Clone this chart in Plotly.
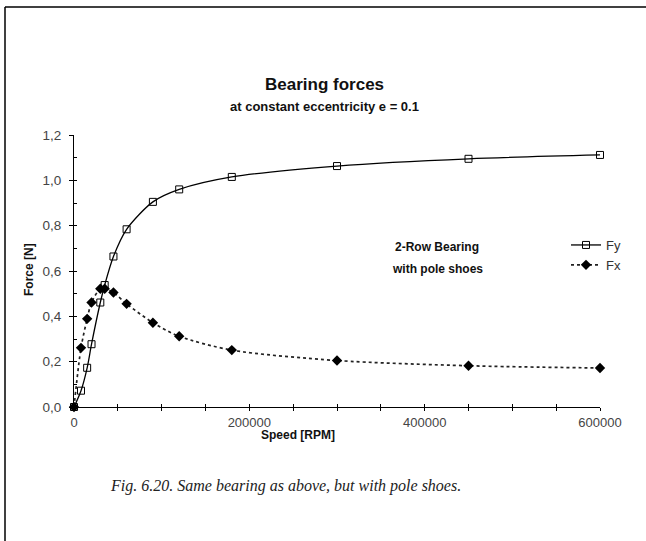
import plotly.graph_objects as go

# ---- data ----
speed = [0, 8000, 15000, 20000, 30000, 35000, 45000, 60000, 90000, 120000, 180000, 300000, 450000, 600000]
fy = [0.0, 0.072, 0.173, 0.277, 0.461, 0.538, 0.664, 0.784, 0.905, 0.960, 1.015, 1.063, 1.095, 1.112]
fx = [0.0, 0.261, 0.389, 0.461, 0.522, 0.522, 0.505, 0.455, 0.372, 0.312, 0.251, 0.205, 0.182, 0.172]

x_tick_vals = [0, 50000, 100000, 150000, 200000, 250000, 300000, 350000, 400000, 450000, 500000, 550000, 600000]
x_tick_text = ["0", "", "", "", "200000", "", "", "", "400000", "", "", "", "600000"]
y_tick_vals = [0.0, 0.2, 0.4, 0.6, 0.8, 1.0, 1.2]
y_tick_text = ["0,0", "0,2", "0,4", "0,6", "0,8", "1,0", "1,2"]
y_minor_vals = [0.0, 0.1, 0.2, 0.3, 0.4, 0.5, 0.6, 0.7, 0.8, 0.9, 1.0, 1.1, 1.2]

W, H = 646, 541
L, R, T, B = 74, 46, 135, 134
pw, ph = W - L - R, H - T - B

def px(x):
    return (x - L) / pw

def py(y):
    return (H - B - y) / ph

SANS = "Liberation Sans, Arial, sans-serif"

fig = go.Figure()
fig.add_trace(go.Scatter(
    x=speed, y=fy, name="Fy", mode="lines+markers",
    line=dict(color="black", width=1.3, shape="spline", smoothing=0.8),
    marker=dict(symbol="square-open", size=7, color="black", line=dict(width=1)),
    cliponaxis=False,
))
fig.add_trace(go.Scatter(
    x=speed, y=fx, name="Fx", mode="lines+markers",
    line=dict(color="#222", width=1.7, shape="spline", smoothing=0.8, dash="dot"),
    marker=dict(symbol="diamond", size=8, color="black"),
    cliponaxis=False,
))
# empty trace to anchor overlay axes (for crossing ticks)
fig.add_trace(go.Scatter(x=[], y=[], xaxis="x2", yaxis="y2", showlegend=False, hoverinfo="skip"))

axis_common = dict(showgrid=False, zeroline=False, showline=True, linecolor="black", linewidth=1,
                   tickcolor="black", tickwidth=1)

fig.update_layout(
    width=W, height=H,
    margin=dict(l=L, r=R, t=T, b=B, autoexpand=False),
    paper_bgcolor="white", plot_bgcolor="white",
    font=dict(family=SANS, size=12, color="#222"),
    xaxis=dict(range=[0, 600000], tickvals=x_tick_vals, ticktext=x_tick_text, ticks="outside", ticklen=3,
               tickfont=dict(size=13, color="#444"), **axis_common),
    yaxis=dict(range=[0, 1.2], tickvals=y_tick_vals, ticktext=y_tick_text, ticks="outside", ticklen=4,
               ticklabelstandoff=5, tickfont=dict(size=13.5, color="#444"), **axis_common),
    xaxis2=dict(range=[0, 600000], overlaying="x", anchor="y", side="bottom", tickvals=x_tick_vals,
                showticklabels=False, ticks="inside", ticklen=3, **axis_common),
    yaxis2=dict(range=[0, 1.2], overlaying="y", anchor="x", side="left", tickvals=y_minor_vals,
                showticklabels=False, ticks="inside", ticklen=3, **axis_common),
    showlegend=True,
    legend=dict(x=px(566), y=py(230), xanchor="left", yanchor="top", bgcolor="rgba(0,0,0,0)",
                font=dict(family=SANS, size=13, color="#333"), itemwidth=30, tracegroupgap=0),
)

annotations = [
    dict(text="<b>Bearing forces</b>", x=px(324), y=py(84), font=dict(size=17, color="#111")),
    dict(text="<b>at constant eccentricity e = 0.1</b>", x=px(324), y=py(107), font=dict(size=13, color="#111")),
    dict(text="<b>2-Row Bearing</b>", x=px(437), y=py(247), font=dict(size=12, color="#111")),
    dict(text="<b>with pole shoes</b>", x=px(437), y=py(269), font=dict(size=12, color="#111")),
    dict(text="<b>Speed [RPM]</b>", x=px(298), y=py(435), font=dict(size=12, color="#111")),
    dict(text="<b>Force [N]</b>", x=px(29), y=py(270), textangle=-90, font=dict(size=12, color="#111")),
    dict(text="<i>Fig. 6.20. Same bearing as above, but with pole shoes.</i>", x=px(285), y=py(486),
         font=dict(family="Liberation Serif, Times New Roman, serif", size=16, color="#222")),
]
for a in annotations:
    fig.add_annotation(xref="paper", yref="paper", showarrow=False, xanchor="center", yanchor="middle",
                       font_family=a["font"].get("family", SANS), **{k: v for k, v in a.items()})

# outer frame (left and top edges)
fig.add_shape(type="line", xref="paper", yref="paper", x0=px(5), x1=px(5), y0=py(7), y1=py(H + 2),
              line=dict(color="black", width=1.5))
fig.add_shape(type="line", xref="paper", yref="paper", x0=px(5), x1=px(W + 2), y0=py(7), y1=py(7),
              line=dict(color="black", width=1.5))

fig.write_html("out.html")
